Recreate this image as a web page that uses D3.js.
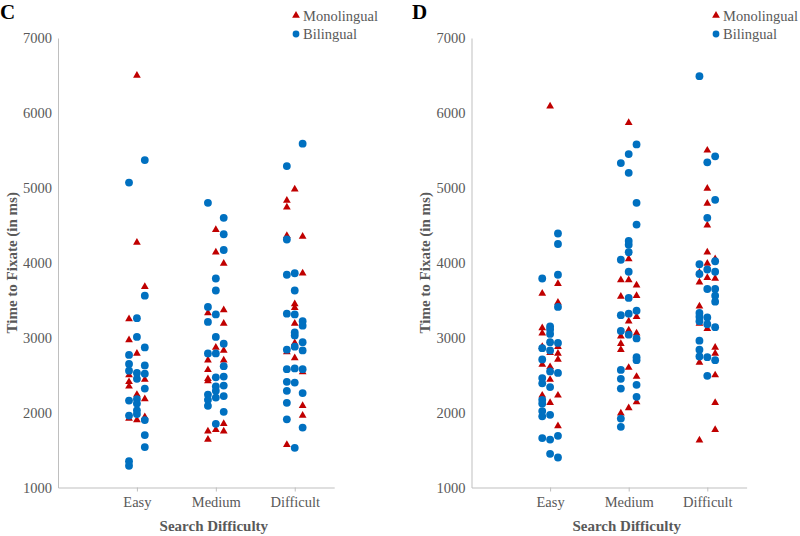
<!DOCTYPE html>
<html>
<head>
<meta charset="utf-8">
<script src="https://cdn.jsdelivr.net/npm/d3@7"></script>
<style>
  html, body { margin: 0; padding: 0; background: #fff; }
  svg { display: block; }
  text { font-family: "Liberation Serif", "Times New Roman", serif; }
</style>
</head>
<body>
<svg id="chart" width="800" height="536"></svg>
<script>
// ---------- data ----------
const categories = ["Easy", "Medium", "Difficult"];
const categoryPositions = [1, 2, 3];
const yTicks = [1000, 2000, 3000, 4000, 5000, 6000, 7000];
const seriesNames = ["Monolingual", "Bilingual"];

// [x position in category units (jittered), time to fixate in ms]
const cMonolingual = [
  [0.9,3250],[0.9,2970],[0.9,2500],[0.9,2410],[0.9,2350],[0.9,1920],
  [1.0,6500],[1.0,4270],[1.0,2790],[1.0,2240],[1.0,1900],
  [1.1,3680],[1.1,2440],[1.1,2180],[1.1,1940],
  [1.9,3330],[1.9,2700],[1.9,2570],[1.9,2450],[1.9,2420],[1.9,1750],[1.9,1640],
  [2.0,4440],[2.0,4140],[2.0,2870],[2.0,1770],
  [2.1,3990],[2.1,3370],[2.1,3190],[2.1,2830],[2.1,2700],[2.1,1850],[2.1,1750],
  [2.9,4830],[2.9,4740],[2.9,4360],[2.9,2810],[2.9,1570],
  [3.0,4980],[3.0,3450],[3.0,3400],[3.0,3190],[3.0,2930],[3.0,2890],[3.0,2730],
  [3.1,4350],[3.1,3860],[3.1,2540],[3.1,2090],[3.1,1960]
];
const cBilingual = [
  [0.9,5070],[0.9,2770],[0.9,2650],[0.9,2560],[0.9,2160],[0.9,1960],[0.9,1350],[0.9,1290],
  [1.0,3260],[1.0,3010],[1.0,2530],[1.0,2450],[1.0,2180],[1.0,2120],[1.0,2030],[1.0,1980],
  [1.1,5370],[1.1,3560],[1.1,2870],[1.1,2630],[1.1,2520],[1.1,2320],[1.1,1900],[1.1,1700],[1.1,1540],
  [1.9,4800],[1.9,3410],[1.9,3210],[1.9,2790],[1.9,2240],[1.9,2170],[1.9,2090],
  [2.0,3790],[2.0,3630],[2.0,3310],[2.0,3010],[2.0,2790],[2.0,2470],[2.0,2350],[2.0,2290],[2.0,2200],[2.0,1850],
  [2.1,4600],[2.1,4380],[2.1,4170],[2.1,2920],[2.1,2620],[2.1,2480],[2.1,2360],[2.1,2220],[2.1,2010],
  [2.9,5290],[2.9,4310],[2.9,3840],[2.9,3320],[2.9,2840],[2.9,2580],[2.9,2410],[2.9,2290],[2.9,2130],[2.9,1910],
  [3.0,3860],[3.0,3630],[3.0,3310],[3.0,3070],[3.0,3030],[3.0,2880],[3.0,2590],[3.0,2400],[3.0,1530],
  [3.1,5590],[3.1,3220],[3.1,3160],[3.1,2940],[3.1,2830],[3.1,2580],[3.1,2260],[3.1,1800]
];
const dMonolingual = [
  [0.9,3590],[0.9,3130],[0.9,3060],[0.9,2880],[0.9,2640],[0.9,2230],
  [1.0,6090],[1.0,2800],[1.0,2610],[1.0,2440],[1.0,2130],
  [1.1,3720],[1.1,3470],[1.1,2880],[1.1,2790],[1.1,2710],[1.1,2230],[1.1,1820],
  [1.9,3770],[1.9,3550],[1.9,3020],[1.9,2920],[1.9,2840],[1.9,1990],
  [2.0,5870],[2.0,4050],[2.0,3770],[2.0,3220],[2.0,3100],[2.0,2600],[2.0,2060],
  [2.1,3700],[2.1,3560],[2.1,3280],[2.1,3060],[2.1,2480],[2.1,2140],
  [2.9,3870],[2.9,3740],[2.9,3420],[2.9,3190],[2.9,2670],[2.9,1630],
  [3.0,5500],[3.0,4990],[3.0,4790],[3.0,4500],[3.0,4140],[3.0,3990],[3.0,3800],[3.0,3120],
  [3.1,4050],[3.1,3790],[3.1,2870],[3.1,2790],[3.1,2500],[3.1,2130],[3.1,1770]
];
const dBilingual = [
  [0.9,3790],[0.9,2860],[0.9,2710],[0.9,2460],[0.9,2390],[0.9,2170],[0.9,2120],[0.9,2020],[0.9,1950],[0.9,1660],
  [1.0,3150],[1.0,3110],[1.0,3050],[1.0,2940],[1.0,2830],[1.0,2550],[1.0,2340],[1.0,1970],[1.0,1640],[1.0,1450],
  [1.1,4390],[1.1,4250],[1.1,3840],[1.1,3410],[1.1,2930],[1.1,2530],[1.1,1690],[1.1,1400],
  [1.9,5330],[1.9,4040],[1.9,3300],[1.9,3090],[1.9,2570],[1.9,2450],[1.9,2320],[1.9,1920],[1.9,1810],
  [2.0,5450],[2.0,5200],[2.0,4290],[2.0,4240],[2.0,4140],[2.0,3880],[2.0,3530],[2.0,3320],[2.0,3040],
  [2.1,5580],[2.1,4800],[2.1,4510],[2.1,3360],[2.1,2990],[2.1,2740],[2.1,2700],[2.1,2370],[2.1,2210],
  [2.9,6490],[2.9,3980],[2.9,3850],[2.9,3330],[2.9,3280],[2.9,3220],[2.9,2960],[2.9,2840],[2.9,2750],
  [3.0,5340],[3.0,4600],[3.0,3910],[3.0,3650],[3.0,3270],[3.0,3180],[3.0,2740],[3.0,2490],
  [3.1,5420],[3.1,4840],[3.1,4020],[3.1,3880],[3.1,3650],[3.1,3560],[3.1,3480],[3.1,3140],[3.1,2700]
];

// ---------- styles ----------
const RED = "#C00000";
const BLUE = "#0070C0";
const AXIS = "#BFBFBF";
const TEXT = "#595959";

const svg = d3.select("#chart");
const triPath = d3.symbol().type(d3.symbolTriangle).size(26)();
const circPath = d3.symbol().type(d3.symbolCircle).size(48)();

function drawPanel(p) {
  const g = svg.append("g");
  const x = d3.scaleLinear().domain([0, 3.5]).range([p.x0, p.x1]);
  const y = d3.scaleLinear().domain([1000, 7000]).range([487.5, 38]);

  // panel letter
  g.append("text").attr("x", p.letterX).attr("y", 19)
    .attr("font-size", 21).attr("font-weight", "bold").attr("fill", "#000")
    .text(p.letter);

  // y axis
  const yAxis = d3.axisLeft(y).tickValues(yTicks).tickSize(0).tickPadding(6).tickFormat(d3.format("d"));
  const ya = g.append("g").attr("transform", `translate(${p.x0},0)`).call(yAxis);
  ya.select(".domain").attr("stroke", AXIS).attr("stroke-width", 1);
  ya.selectAll("text").attr("font-size", 14.5).attr("fill", TEXT)
    .attr("font-family", '"Liberation Serif", serif');

  // x axis
  const xAxis = d3.axisBottom(x).tickValues(categoryPositions)
    .tickFormat((d, i) => categories[i]).tickSizeInner(4).tickSizeOuter(0).tickPadding(5);
  const xa = g.append("g").attr("transform", `translate(0,${y(1000)})`).call(xAxis);
  xa.select(".domain").attr("stroke", AXIS).attr("stroke-width", 1);
  xa.selectAll(".tick line").attr("stroke", AXIS);
  xa.selectAll("text").attr("font-size", 14.5).attr("fill", TEXT)
    .attr("font-family", '"Liberation Serif", serif');

  // axis titles
  g.append("text")
    .attr("transform", `translate(${p.yTitleX},${(y(1000) + y(7000)) / 2}) rotate(-90)`)
    .attr("text-anchor", "middle").attr("font-size", 15).attr("font-weight", "bold")
    .attr("fill", TEXT).text("Time to Fixate (in ms)");
  g.append("text")
    .attr("x", x(2) - 2).attr("y", 531)
    .attr("text-anchor", "middle").attr("font-size", 15).attr("font-weight", "bold")
    .attr("fill", TEXT).text("Search Difficulty");

  // points: monolingual first, bilingual on top
  g.append("g").selectAll("path").data(p.mono).join("path")
    .attr("d", triPath).attr("fill", RED)
    .attr("transform", d => `translate(${x(d[0])},${y(d[1])})`);
  g.append("g").selectAll("path").data(p.bi).join("path")
    .attr("d", circPath).attr("fill", BLUE)
    .attr("transform", d => `translate(${x(d[0])},${y(d[1])})`);

  // legend
  const lg = g.append("g").attr("transform", `translate(${p.legendX},0)`);
  lg.append("path").attr("d", triPath).attr("fill", RED).attr("transform", "translate(0,15.5)");
  lg.append("path").attr("d", d3.symbol().type(d3.symbolCircle).size(36)()).attr("fill", BLUE).attr("transform", "translate(0,34)");
  lg.append("text").attr("x", 7).attr("y", 20.5).attr("font-size", 14.5).attr("fill", TEXT).text(seriesNames[0]);
  lg.append("text").attr("x", 7).attr("y", 39).attr("font-size", 14.5).attr("fill", TEXT).text(seriesNames[1]);
}

drawPanel({ letter: "C", letterX: 0, x0: 58, x1: 334.2, yTitleX: 17, legendX: 296, mono: cMonolingual, bi: cBilingual });
drawPanel({ letter: "D", letterX: 412, x0: 471.5, x1: 746.6, yTitleX: 430, legendX: 716, mono: dMonolingual, bi: dBilingual });
</script>
</body>
</html>
